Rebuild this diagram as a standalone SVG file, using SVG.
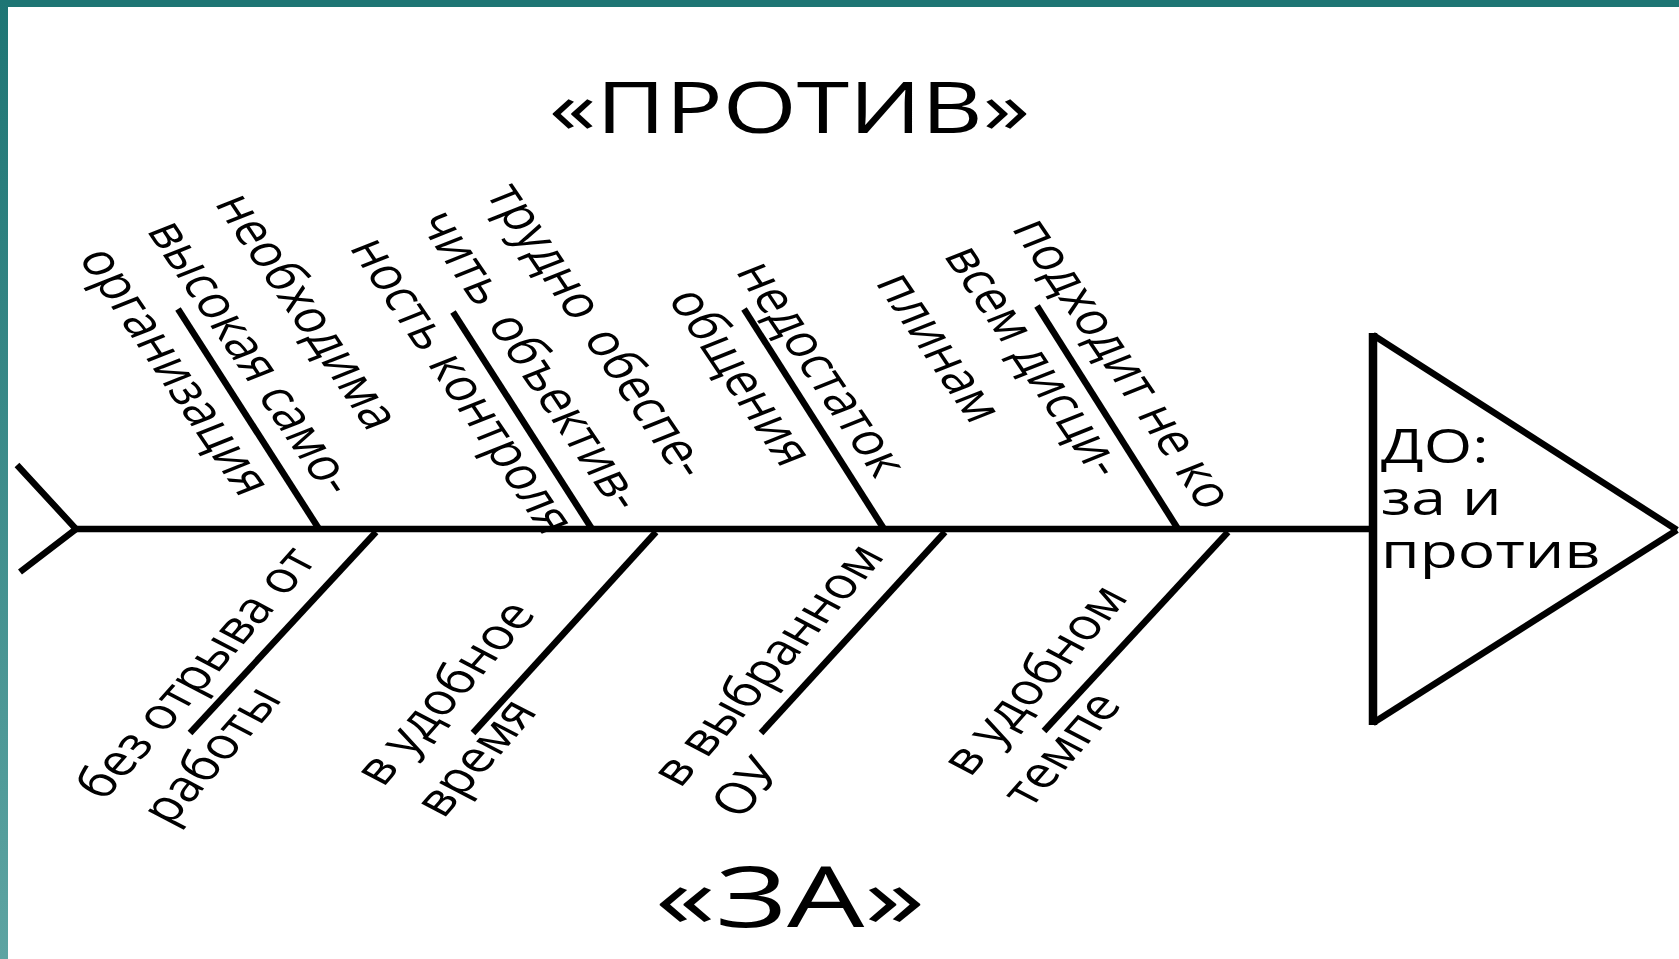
<svg xmlns="http://www.w3.org/2000/svg" width="1679" height="959" viewBox="0 0 1679 959">
<defs>
<style>
text{font-family:"Open Sans","Liberation Sans",sans-serif;fill:#000}
.ln{stroke:#000;stroke-width:6.5;fill:none;stroke-linecap:butt}
.lbl{font-size:43px}
</style>
<linearGradient id="lb" x1="0" y1="0" x2="0" y2="1">
<stop offset="0" stop-color="#1e7574"/>
<stop offset="1" stop-color="#5da4a2"/>
</linearGradient>
</defs>
<rect width="1679" height="959" fill="#fff"/>
<g id="frame">
<rect x="0" y="0" width="1679" height="7" fill="#1e7574"/>
<rect x="0" y="0" width="8" height="959" fill="url(#lb)"/>
</g>
<g id="connectors">
<line class="ln" x1="76" y1="529" x2="1373" y2="529"/>
<polyline class="ln" points="17,465 76,529 20,572"/>
<line class="ln" x1="178" y1="309" x2="319" y2="529"/>
<line class="ln" x1="453" y1="312" x2="592" y2="529"/>
<line class="ln" x1="744" y1="309" x2="884" y2="529"/>
<line class="ln" x1="1037" y1="306" x2="1178" y2="529"/>
<line class="ln" x1="376" y1="532" x2="190" y2="733"/>
<line class="ln" x1="656" y1="532" x2="473" y2="733"/>
<line class="ln" x1="945" y1="532" x2="761" y2="733"/>
<line class="ln" x1="1228" y1="532" x2="1044" y2="731"/>
</g>
<g id="title-against">
<text x="549" y="133" font-size="72" textLength="481" lengthAdjust="spacingAndGlyphs">«ПРОТИВ»</text>
</g>
<g id="title-for">
<text x="655" y="927" font-size="84" textLength="270" lengthAdjust="spacingAndGlyphs">«ЗА»</text>
</g>
<g id="head">
<line class="ln" x1="1373" y1="333" x2="1373" y2="725" style="stroke-width:8.5"/>
<line class="ln" x1="1373" y1="335" x2="1677" y2="530"/>
<line class="ln" x1="1373" y1="723" x2="1677" y2="530"/>
<g transform="translate(1381,0) scale(1.3,1)" font-size="48">
<text><tspan x="0" y="463">ДО:</tspan><tspan x="0" y="515">за и</tspan><tspan x="0" y="568">против</tspan></text>
</g>
</g>
<g id="con-1" transform="matrix(0.598 0.888 -1.154 0.46 214 203)">
<text class="lbl"><tspan x="0" y="0">необходима</tspan><tspan x="0" dy="59">высокая само-</tspan><tspan x="0" dy="59">организация</tspan></text>
</g>
<g id="con-2" transform="matrix(0.598 0.888 -1.154 0.46 485 193)">
<text class="lbl"><tspan x="0" y="0" word-spacing="6">трудно обеспе-</tspan><tspan x="0" dy="59" word-spacing="6">чить объектив-</tspan><tspan x="0" dy="59">ность контроля</tspan></text>
</g>
<g id="con-3" transform="matrix(0.598 0.888 -1.154 0.46 735 271)">
<text class="lbl"><tspan x="0" y="0">недостаток</tspan><tspan x="0" dy="59">общения</tspan></text>
</g>
<g id="con-4" transform="matrix(0.598 0.888 -1.154 0.46 1011 228)">
<text class="lbl"><tspan x="0" y="0">подходит не ко</tspan><tspan x="0" dy="59">всем дисци-</tspan><tspan x="0" dy="59">плинам</tspan></text>
</g>
<g id="pro-1" transform="matrix(0.732 -0.827 1.075 0.563 104 802)">
<text class="lbl"><tspan x="0" y="0">без отрыва от</tspan><tspan x="8" dy="56">работы</tspan></text>
</g>
<g id="pro-2" transform="matrix(0.732 -0.827 1.075 0.563 383 788)">
<text class="lbl"><tspan x="0" y="0">в удобное</tspan><tspan x="0" dy="56">время</tspan></text>
</g>
<g id="pro-3" transform="matrix(0.732 -0.827 1.075 0.563 680 789)">
<text class="lbl"><tspan x="0" y="0">в выбранном</tspan><tspan x="0" dy="56">ОУ</tspan></text>
</g>
<g id="pro-4" transform="matrix(0.732 -0.827 1.075 0.563 970 778)">
<text class="lbl"><tspan x="0" y="0">в удобном</tspan><tspan x="0" dy="56">темпе</tspan></text>
</g>
</svg>
